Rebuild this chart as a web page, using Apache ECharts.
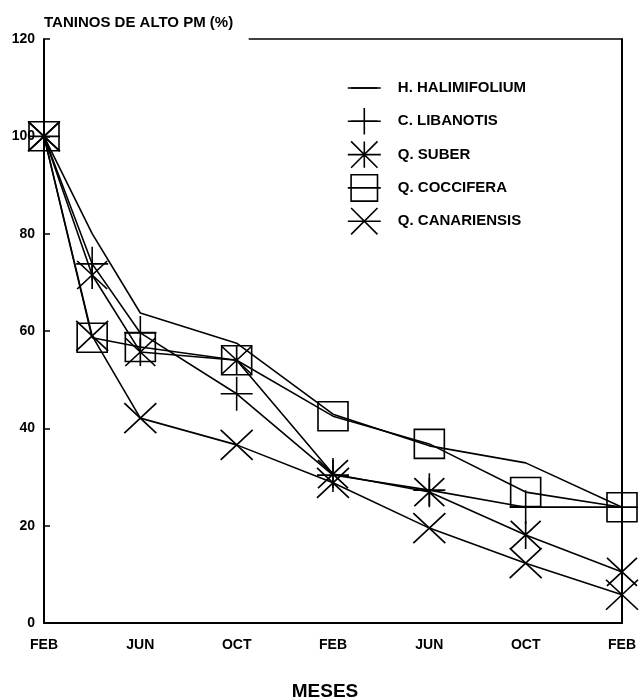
<!DOCTYPE html>
<html><head><meta charset="utf-8">
<script src="https://cdn.jsdelivr.net/npm/echarts@6/dist/echarts.min.js"></script>
<style>html,body{margin:0;padding:0;background:#fff}#c{width:640px;height:697px}</style>
</head><body><div id="c"></div>
<script>
// sampling months (0 = first FEB)
const months = [0, 2, 4, 8, 12, 16, 20, 24];
const tickLabels = ['FEB', 'JUN', 'OCT', 'FEB', 'JUN', 'OCT', 'FEB'];
const seriesNames = ['H. HALIMIFOLIUM', 'C. LIBANOTIS', 'Q. SUBER', 'Q. COCCIFERA', 'Q. CANARIENSIS'];
const halimifolium = [100, 80.0, 63.7, 57.5, 42.9, 36.4, 32.9, 23.8];
const libanotis    = [100, 73.8, 59.6, 47.1, 30.4, 27.3, 23.8, 23.8];
const suber        = [100, 71.5, 55.7, 54.0, 30.6, 26.9, 18.1, 10.5];
const coccifera    = [100, 58.6, 56.7, 54.0, 42.5, 36.8, 26.9, 23.8];
const canariensis  = [100, 59.0, 42.1, 36.6, 28.8, 19.5, 12.3, 5.8];
const yTitle = 'TANINOS DE ALTO PM (%)';
const xTitle = 'MESES';

const FONT = 'Liberation Sans, Arial, sans-serif';
const SYM = {
  line: 'path://M0,10 L20,10 M10,0 L10,0 M10,20 L10,20',
  plus: 'path://M0,10 L20,10 M10,0 L10,20',
  star: 'path://M0,0 L20,20 M20,0 L0,20 M10,0 L10,20',
  square: 'path://M0,0 L20,0 L20,20 L0,20 Z',
  cross: 'path://M0,0 L20,20 M20,0 L0,20'
};
const pairs = arr => arr.map((v, i) => [months[i], v]);
const lineW = 1.6;
function mk(name, data, symbol, size, extra) {
  return Object.assign({
    name, type: 'line', data: pairs(data), symbol, symbolSize: size,
    lineStyle: { color: '#000', width: lineW },
    itemStyle: { color: 'transparent', borderColor: '#000', borderWidth: lineW },
    emphasis: { disabled: true }, z: 3
  }, extra || {});
}

const chart = echarts.init(document.getElementById('c'), null, { renderer: 'canvas' });
chart.setOption({
  animation: false,
  backgroundColor: '#fff',
  textStyle: { fontFamily: FONT },
  grid: { left: 44, right: 18, top: 39, bottom: 74, containLabel: false, outerBoundsMode: 'none' },
  legend: {
    orient: 'vertical', left: 342, top: 69,
    itemWidth: 33, itemHeight: 33, itemGap: 5.3,
    data: seriesNames,
    textStyle: { fontSize: 15, fontWeight: 'bold', color: '#000', fontFamily: FONT, padding: [0, 0, 0, 12] },
    itemStyle: { color: 'transparent', borderColor: '#000', borderWidth: lineW },
    lineStyle: { color: '#000', width: lineW },
    selectedMode: false
  },
  xAxis: {
    type: 'value', min: 0, max: 24, interval: 4,
    name: xTitle, nameLocation: 'middle', nameGap: 59,
    nameTextStyle: { fontSize: 19, fontWeight: 'bold', color: '#000', fontFamily: FONT, padding: [0, 16, 0, 0] },
    axisLine: { lineStyle: { color: '#000', width: 2 } },
    axisTick: { show: false },
    splitLine: { show: false },
    axisLabel: { margin: 15, fontSize: 14, fontWeight: 'bold', color: '#000', fontFamily: FONT,
      formatter: v => tickLabels[Math.round(v / 4)] }
  },
  yAxis: [{
    type: 'value', min: 0, max: 120, interval: 20,
    name: yTitle, nameLocation: 'end', nameGap: 16,
    nameTextStyle: { fontSize: 15, fontWeight: 'bold', color: '#000', align: 'left', verticalAlign: 'middle', fontFamily: FONT },
    axisLine: { show: true, lineStyle: { color: '#000', width: 2 } },
    axisTick: { show: true, inside: true, length: 6, lineStyle: { color: '#000', width: 1.5 } },
    splitLine: { show: false },
    axisLabel: { margin: 9, fontSize: 14, fontWeight: 'bold', color: '#000', fontFamily: FONT }
  }, {
    type: 'value', min: 0, max: 120, interval: 20, position: 'right',
    axisLine: { show: true, lineStyle: { color: '#000', width: 2 } },
    axisTick: { show: false }, axisLabel: { show: false }, splitLine: { show: false }
  }],
  series: [
    mk(seriesNames[0], halimifolium, SYM.line, 20, {
      showSymbol: false,
      markLine: {
        silent: true, symbol: 'none', label: { show: false },
        lineStyle: { color: '#000', width: 1.5, type: 'solid' },
        data: [[{ coord: [8.5, 120] }, { coord: [24, 120] }]]
      }
    }),
    mk(seriesNames[1], libanotis, SYM.plus, [32, 34]),
    mk(seriesNames[2], suber, SYM.star, [30, 28]),
    mk(seriesNames[3], coccifera, SYM.square, [30, 29]),
    mk(seriesNames[4], canariensis, SYM.cross, [32, 30])
  ]
});
</script></body></html>
